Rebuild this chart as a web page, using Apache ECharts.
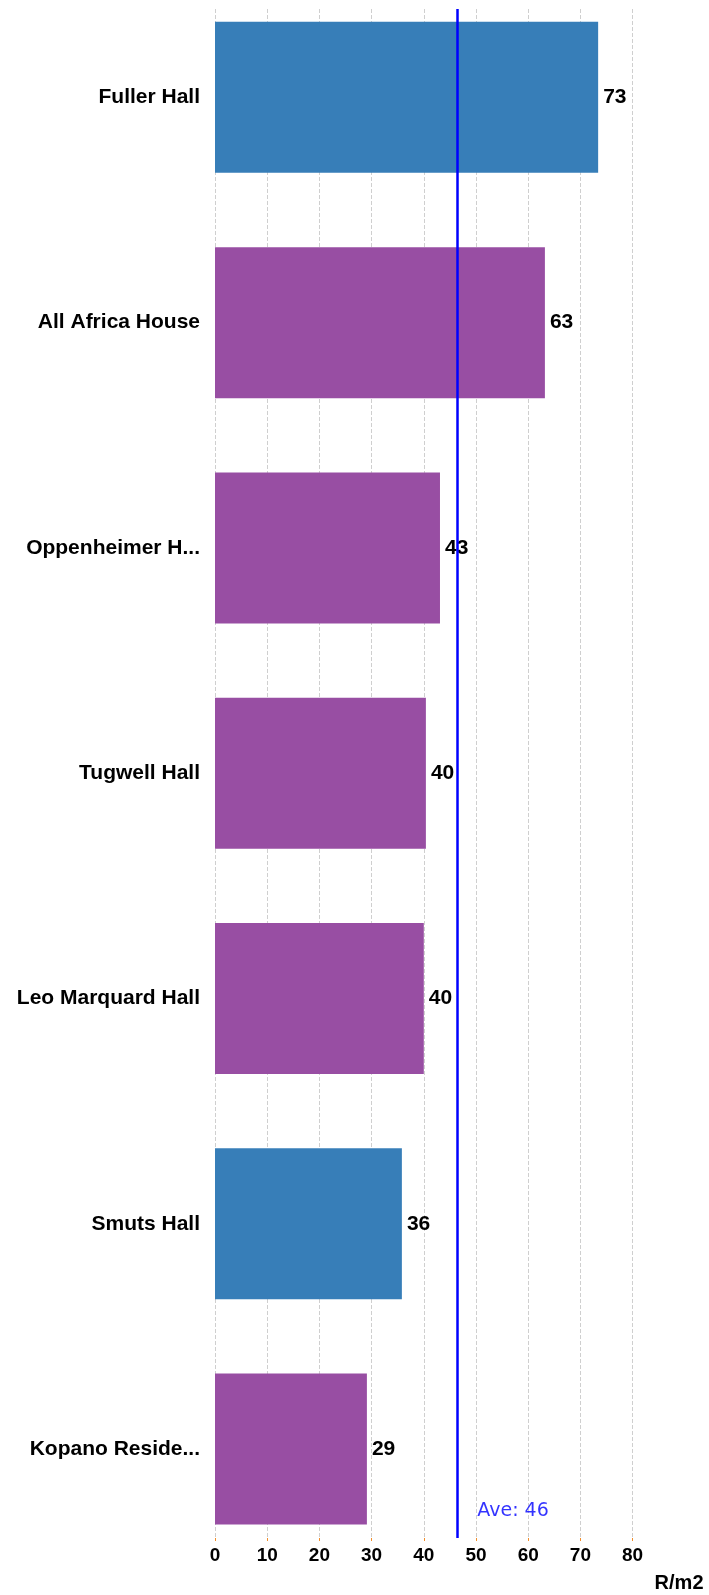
<!DOCTYPE html>
<html>
<head>
<meta charset="utf-8">
<script src="https://cdn.jsdelivr.net/npm/echarts@6/dist/echarts.min.js"></script>
<style>
  html, body { margin: 0; padding: 0; background: #fff; overflow: hidden; }
  /* the chart is 20px taller and moved up, so the bar bands can start above the page top */
  #chart { position: absolute; left: 0; top: -20px; width: 709px; height: 1615px; }
</style>
</head>
<body>
<div id="chart"></div>
<script>
// data
var halls = ['Fuller Hall', 'All Africa House', 'Oppenheimer H...', 'Tugwell Hall',
             'Leo Marquard Hall', 'Smuts Hall', 'Kopano Reside...'];
var costPerM2 = [73.4, 63.2, 43.1, 40.4, 40.0, 35.8, 29.1];
var xTicks = [0, 10, 20, 30, 40, 50, 60, 70, 80];
var avgLabel = 'Ave: ';
var axisName = 'R/m2';

// colours per bar
var barColors = ['#377EB8', '#984EA3', '#984EA3', '#984EA3', '#984EA3', '#377EB8', '#984EA3'];

var avg = costPerM2.reduce(function (a, b) { return a + b; }, 0) / costPerM2.length;

var chart = echarts.init(document.getElementById('chart'));

var boldFont = 'Liberation Sans, Arial, sans-serif';

var option = {
  animation: false,
  backgroundColor: '#fff',
  grid: [
    // bars
    { left: 215, right: 76.4, top: 4.7, height: 1577 },
    // ticks, gridlines and average line
    { left: 215, right: 76.4, top: 29, bottom: 57 }
  ],
  xAxis: [
    {
      gridIndex: 0, type: 'value', min: xTicks[0], max: xTicks[xTicks.length - 1],
      interval: 10, show: false
    },
    {
      gridIndex: 1, type: 'value', min: xTicks[0], max: xTicks[xTicks.length - 1],
      interval: 10,
      axisLine: { show: false },
      axisTick: { show: true, length: 3, lineStyle: { color: '#F28E2B' } },
      splitLine: { show: true, lineStyle: { color: '#cfcfcf', type: 'dashed', width: 1 } },
      axisLabel: {
        margin: 8, color: '#000', fontWeight: 'bold', fontSize: 19, fontFamily: boldFont
      },
      name: axisName,
      nameLocation: 'end',
      nameGap: 22,
      nameTextStyle: {
        color: '#000', fontWeight: 'bold', fontSize: 20, fontFamily: boldFont,
        align: 'left', verticalAlign: 'top', padding: [35, 0, 0, 0]
      }
    }
  ],
  yAxis: [
    {
      gridIndex: 0, type: 'category', data: halls, inverse: true,
      axisLine: { show: false },
      axisTick: { show: false },
      axisLabel: {
        margin: 15, color: '#000', fontWeight: 'bold', fontSize: 21, fontFamily: boldFont
      }
    },
    {
      gridIndex: 1, type: 'value', min: 0, max: 1, show: false
    }
  ],
  series: [
    {
      type: 'bar',
      xAxisIndex: 0,
      yAxisIndex: 0,
      barWidth: 151,
      data: costPerM2.map(function (v, i) {
        return { value: v, itemStyle: { color: barColors[i] } };
      }),
      label: {
        show: true,
        position: 'right',
        distance: 5,
        color: '#000',
        fontWeight: 'bold',
        fontSize: 21,
        fontFamily: boldFont,
        formatter: function (p) { return Math.round(p.value); }
      }
    },
    {
      type: 'scatter',
      xAxisIndex: 1,
      yAxisIndex: 1,
      symbolSize: 0,
      data: [[avg, 0]],
      label: {
        show: true,
        position: 'right',
        distance: 20,
        offset: [0, -27],
        color: '#0000FF',
        fontSize: 19,
        fontFamily: 'DejaVu Sans, Verdana, sans-serif',
        formatter: function () { return avgLabel + Math.round(avg); }
      },
      markLine: {
        silent: true,
        symbol: 'none',
        label: { show: false },
        lineStyle: { color: '#0000FF', width: 2.5, type: 'solid' },
        data: [{ xAxis: avg }]
      }
    }
  ]
};

chart.setOption(option);
window.addEventListener('resize', function () {
  chart.resize();
});
</script>
</body>
</html>
